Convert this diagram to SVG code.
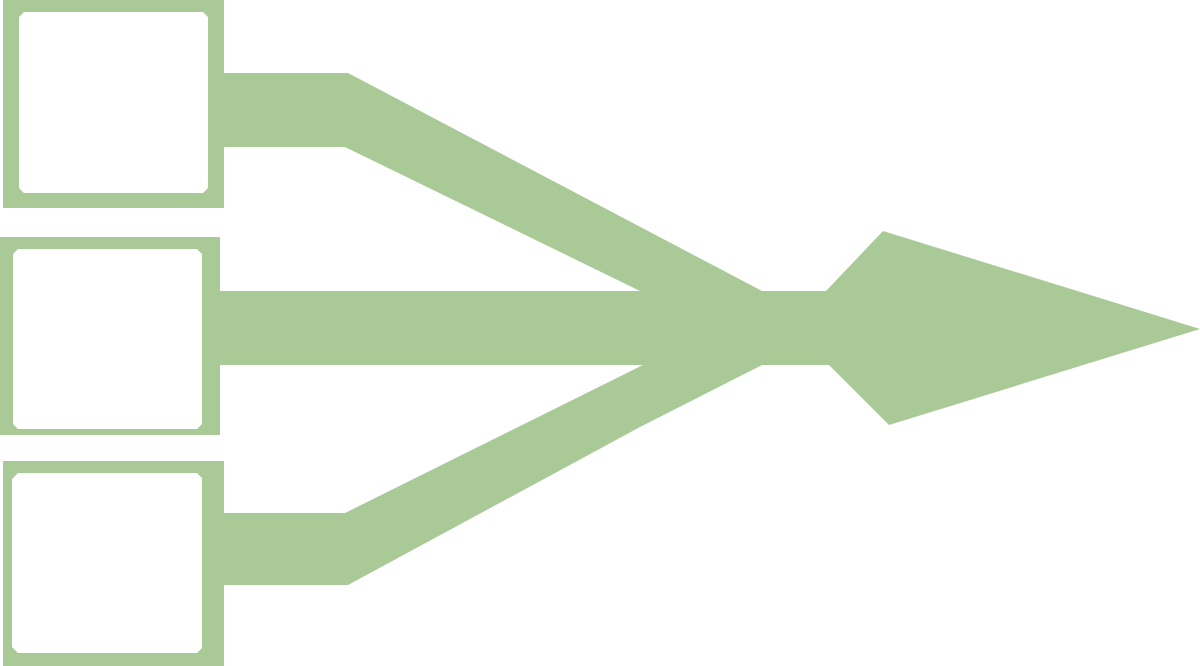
<svg xmlns="http://www.w3.org/2000/svg" width="1200" height="666" viewBox="0 0 1200 666">
<style>
.g{fill:#A9C997;stroke:none}
.frame{fill:#A9C997;fill-rule:evenodd;stroke:none}
</style>
<rect width="1200" height="666" fill="#ffffff"/>
<g id="connectors">
<path class="g" d="M224,73 L348,73 L762,291 L826,291 L883,231 L1200,329 L889,425 L829,365 L762,365 L640,427 L348,585 L224,585 L224,513 L345,513 L643,365 L220,365 L220,291 L640,291 L345,147 L224,147 Z"/>
</g>
<g id="box1">
<path class="frame" d="M3,0 H224 V208 H3 Z M24,12 L203,12 L208,17 L208,188 L203,193 L24,193 L19,188 L19,17 Z"/>
</g>
<g id="box2">
<path class="frame" d="M0,237 H220 V435 H0 Z M18,249 L197,249 L202,254 L202,424 L197,429 L18,429 L13,424 L13,254 Z"/>
</g>
<g id="box3">
<path class="frame" d="M3,461 H224 V666 H3 Z M18,473 L197,473 L202,478 L202,648 L197,653 L18,653 L12,647 L12,479 Z"/>
</g>
</svg>
